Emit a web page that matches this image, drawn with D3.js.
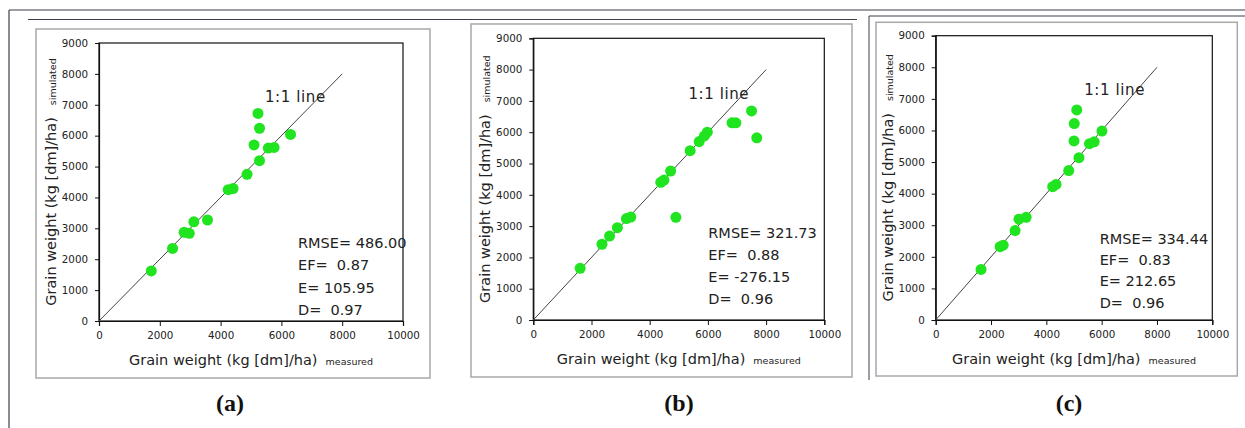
<!DOCTYPE html>
<html>
<head>
<meta charset="utf-8">
<script src="https://cdn.jsdelivr.net/npm/d3@7"></script>
<style>
  body { margin: 0; background: #fff; }
  svg text { white-space: pre; }
</style>
</head>
<body>
<script>
var WIDTH = 1245;
var HEIGHT = 428;

var xTicks = [0, 2000, 4000, 6000, 8000, 10000];
var yTicks = [0, 1000, 2000, 3000, 4000, 5000, 6000, 7000, 8000, 9000];
var oneToOne = [0, 8000];

// (a)
var measuredA  = [1720, 2420, 2800, 2970, 3120, 3570, 4250, 4410, 4870, 5100, 5280, 5280, 5230, 5570, 5760, 6300];
var simulatedA = [1620, 2350, 2870, 2840, 3210, 3270, 4250, 4290, 4750, 5700, 5190, 6240, 6720, 5600, 5620, 6040];
var statsA = ["RMSE= 486.00", "EF=  0.87", "E= 105.95", "D=  0.97"];

// (b)
var measuredB  = [1610, 2360, 2620, 2890, 3200, 3350, 4380, 4490, 4720, 5390, 5700, 5880, 5980, 4900, 6830, 6960, 7500, 7680];
var simulatedB = [1650, 2420, 2680, 2950, 3240, 3290, 4400, 4470, 4760, 5410, 5700, 5880, 6000, 3280, 6300, 6300, 6680, 5820];
var statsB = ["RMSE= 321.73", "EF=  0.88", "E= -276.15", "D=  0.96"];

// (c)
var measuredC  = [1640, 2330, 2440, 2870, 3010, 3270, 4230, 4350, 4810, 5180, 5000, 5560, 5730, 6010, 5010, 5100];
var simulatedC = [1600, 2320, 2370, 2830, 3190, 3250, 4220, 4290, 4730, 5140, 5670, 5580, 5640, 5980, 6220, 6650];
var statsC = ["RMSE= 334.44", "EF=  0.83", "E= 212.65", "D=  0.96"];

var captions = ["(a)", "(b)", "(c)"];

var FRAME = "#3c3f4c";
var GREEN = "#1fe41f";

var svg = d3.select("body")
            .append("svg")
            .attr("width", WIDTH)
            .attr("height", HEIGHT);

// page frame lines
var frame = svg.append("g").attr("fill", "none").attr("stroke", FRAME).attr("stroke-width", 1.2);
frame.append("line").attr("x1", 9).attr("y1", 10).attr("x2", WIDTH).attr("y2", 10);
frame.append("line").attr("x1", 9).attr("y1", 10).attr("x2", 9).attr("y2", HEIGHT);
frame.append("line").attr("x1", 28).attr("y1", 19.5).attr("x2", 857).attr("y2", 19.5).attr("stroke-width", 1);
frame.append("line").attr("x1", 869).attr("y1", 16).attr("x2", WIDTH).attr("y2", 16).attr("stroke-width", 1);
frame.append("line").attr("x1", 869).attr("y1", 16).attr("x2", 869).attr("y2", 380).attr("stroke-width", 1);

var panels = [
  { box: [36, 29, 430, 378], plot: [99, 43, 403, 321], xs: measuredA, ys: simulatedA, stats: statsA,
    stat: [199, 205, 22.3], line11: [5460, 7100], cap: [230, 411] },
  { box: [471, 24, 852, 377], plot: [533.3, 38.3, 824.3, 320], xs: measuredB, ys: simulatedB, stats: statsB,
    stat: [175, 200, 22], line11: [5330, 7060], cap: [679, 411] },
  { box: [876, 22.3, 1237.3, 376], plot: [935.7, 35.7, 1212.3, 320], xs: measuredC, ys: simulatedC, stats: statsC,
    stat: [164, 208, 21.3], line11: [5370, 7120], cap: [1069, 411] }
];

var drawPanel = function(p, i) {
  var g = svg.append("g");
  var b = p.box, pl = p.plot;

  g.append("rect")
   .attr("x", b[0]).attr("y", b[1])
   .attr("width", b[2] - b[0]).attr("height", b[3] - b[1])
   .attr("fill", "#fff").attr("stroke", "#a8a8a8").attr("stroke-width", 1.5);

  var x = d3.scaleLinear().domain([0, 10000]).range([pl[0], pl[2]]);
  var y = d3.scaleLinear().domain([0, 9000]).range([pl[3], pl[1]]);

  // plot frame
  g.append("rect")
   .attr("x", pl[0]).attr("y", pl[1])
   .attr("width", pl[2] - pl[0]).attr("height", pl[3] - pl[1])
   .attr("fill", "none").attr("stroke", "#111").attr("stroke-width", 1.2);

  var xAxis = g.append("g")
               .attr("transform", "translate(0," + pl[3] + ")")
               .call(d3.axisBottom(x).tickValues(xTicks).tickSize(5).tickPadding(6).tickFormat(d3.format("d")));
  var yAxis = g.append("g")
               .attr("transform", "translate(" + pl[0] + ",0)")
               .call(d3.axisLeft(y).tickValues(yTicks).tickSize(4).tickPadding(7).tickFormat(d3.format("d")));
  [xAxis, yAxis].forEach(function(a) {
    a.select(".domain").attr("stroke", "#111").attr("stroke-width", 1.2);
    a.selectAll(".tick line").attr("stroke", "#111");
    a.selectAll(".tick text")
     .attr("fill", "#222")
     .style("font-family", "'DejaVu Sans', Verdana, sans-serif")
     .style("font-size", "10.3px");
  });

  // 1:1 line
  g.append("line")
   .attr("x1", x(oneToOne[0])).attr("y1", y(oneToOne[0]))
   .attr("x2", x(oneToOne[1])).attr("y2", y(oneToOne[1]))
   .attr("stroke", "#444").attr("stroke-width", 1);

  var pts = p.xs.map(function(v, k) { return [v, p.ys[k]]; });
  g.selectAll("circle.pt")
   .data(pts)
   .enter()
   .append("circle")
   .classed("pt", true)
   .attr("cx", function(d) { return x(d[0]); })
   .attr("cy", function(d) { return y(d[1]); })
   .attr("r", 5.5)
   .attr("fill", GREEN);

  g.append("text")
   .attr("x", x(p.line11[0])).attr("y", y(p.line11[1]))
   .attr("fill", "#222")
   .style("font-family", "'DejaVu Sans', Verdana, sans-serif")
   .style("font-size", "15px")
   .style("letter-spacing", "0.6px")
   .text("1:1 line");

  g.selectAll("text.stat")
   .data(p.stats)
   .enter()
   .append("text")
   .classed("stat", true)
   .attr("x", pl[0] + p.stat[0])
   .attr("y", function(d, k) { return pl[1] + p.stat[1] + k * p.stat[2]; })
   .attr("fill", "#222")
   .style("font-family", "'DejaVu Sans', Verdana, sans-serif")
   .style("font-size", "14.5px")
   .text(function(d) { return d; });

  // axis titles
  var xt = g.append("text")
            .attr("x", (pl[0] + pl[2]) / 2).attr("y", pl[3] + 44)
            .attr("text-anchor", "middle")
            .attr("fill", "#222")
            .style("font-family", "'DejaVu Sans', Verdana, sans-serif")
            .style("font-size", "14.5px");
  xt.append("tspan").text("Grain weight (kg [dm]/ha)");
  xt.append("tspan").attr("dx", 8).style("font-size", "9.5px").text("measured");

  var cy = (pl[1] + pl[3]) / 2;
  var yt = g.append("text")
            .attr("transform", "translate(" + (pl[0] - 43) + "," + cy + ") rotate(-90)")
            .attr("text-anchor", "middle")
            .attr("fill", "#222")
            .style("font-family", "'DejaVu Sans', Verdana, sans-serif")
            .style("font-size", "14.5px");
  yt.append("tspan").text("Grain weight (kg [dm]/ha)");
  yt.append("tspan").attr("dx", 12).style("font-size", "9.5px").text("simulated");

  svg.append("text")
     .attr("x", p.cap[0]).attr("y", p.cap[1])
     .attr("text-anchor", "middle")
     .attr("fill", "#111")
     .style("font-family", "'Liberation Serif', 'Times New Roman', serif")
     .style("font-weight", "bold")
     .style("font-size", "24px")
     .text(captions[i]);
};

panels.forEach(drawPanel);
</script>
</body>
</html>
